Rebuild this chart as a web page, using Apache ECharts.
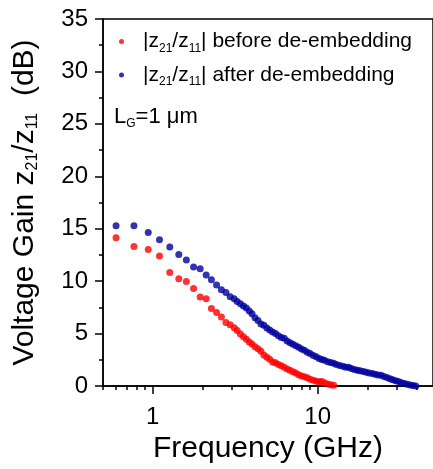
<!DOCTYPE html>
<html>
<head>
<meta charset="utf-8">
<style>
  html, body { margin: 0; padding: 0; background: #fff; }
  #chart { width: 433px; height: 469px; }
</style>
<script src="https://cdn.jsdelivr.net/npm/echarts@6/dist/echarts.min.js"></script>
</head>
<body>
<div id="chart"></div>
<script>
// frequency (GHz) and gain (dB)
var beforeFreq = [0.60, 0.77, 0.94, 1.10, 1.27, 1.44, 1.60, 1.77, 1.94, 2.11, 2.27, 2.44, 2.61, 2.78, 2.95, 3.12,
    3.25, 3.40, 3.55, 3.70, 3.85, 4.00, 4.17, 4.35, 4.53, 4.72, 4.92, 5.12, 5.33, 5.55, 5.78, 6.02, 6.27,
    6.53, 6.80, 7.08, 7.37, 7.67, 7.98, 8.30, 8.65, 9.00, 9.40, 9.80, 10.2, 10.6, 11.0, 11.5, 12.0, 12.5];
var beforeGain = [14.14, 13.31, 13.02, 12.39, 10.83, 10.23, 9.97, 9.31, 8.48, 8.32, 7.40, 7.02, 6.58, 6.05, 5.85, 5.55,
    5.30, 4.95, 4.70, 4.45, 4.20, 4.00, 3.75, 3.55, 3.32, 2.95, 2.75, 2.55, 2.30, 2.22, 2.05, 1.92, 1.78,
    1.62, 1.50, 1.35, 1.25, 1.08, 0.95, 0.88, 0.78, 0.65, 0.55, 0.45, 0.40, 0.42, 0.30, 0.20, 0.12, 0.08];

var afterFreq = [0.60, 0.77, 0.94, 1.10, 1.27, 1.44, 1.60, 1.77, 1.94, 2.11, 2.27, 2.44, 2.61, 2.78, 2.95, 3.12,
    3.25, 3.40, 3.55, 3.70, 3.85, 4.00, 4.17, 4.35, 4.53, 4.72, 4.92, 5.12, 5.33, 5.55, 5.78, 6.02, 6.27,
    6.53, 6.80, 7.08, 7.37, 7.67, 7.98, 8.30, 8.65, 9.00, 9.40, 9.80, 10.2, 10.6, 11.0, 11.5, 12.0, 12.5,
    13.0, 13.6, 14.2, 14.8, 15.4, 16.0, 16.7, 17.4, 18.1, 18.9, 19.7, 20.5, 21.4, 22.3, 23.2, 24.2, 25.2,
    26.3, 27.4, 28.5, 29.7, 30.9, 32.2, 33.5, 34.9, 36.3, 37.8, 39.3];
var afterGain = [15.28, 15.28, 14.64, 13.95, 13.25, 12.55, 12.01, 11.34, 11.18, 10.58, 10.13, 9.63, 9.18, 8.92, 8.51, 8.32,
    8.05, 7.85, 7.62, 7.44, 7.15, 6.90, 6.50, 6.25, 5.92, 5.80, 5.52, 5.35, 5.15, 5.00, 4.80, 4.62, 4.55,
    4.30, 4.12, 3.98, 3.85, 3.70, 3.52, 3.40, 3.22, 3.10, 2.92, 2.78, 2.62, 2.52, 2.45, 2.32, 2.25, 2.18,
    2.05, 1.95, 1.88, 1.80, 1.78, 1.68, 1.58, 1.50, 1.45, 1.38, 1.32, 1.25, 1.20, 1.12, 1.05, 1.02, 0.90,
    0.80, 0.70, 0.60, 0.50, 0.42, 0.32, 0.25, 0.16, 0.10, 0.04, 0.00];

var majorTicksX = [1, 10];
var minorTicksX = [0.5, 0.6, 0.7, 0.8, 0.9, 2, 3, 4, 5, 6, 7, 8, 9, 20, 30, 40];

var xMin = 0.5, xMax = 50;
var font = 'Liberation Sans, Arial, sans-serif';

function pairs(xs, ys) {
    var out = [];
    for (var i = 0; i < xs.length; i++) out.push([xs[i], ys[i]]);
    return out;
}
function lg(arr) {
    return arr.map(function (v) { return Math.log10(v); });
}

var chart = echarts.init(document.getElementById('chart'), null, {renderer: 'canvas'});
chart.setOption({
    animation: false,
    backgroundColor: '#fff',
    grid: {
        left: 103,
        top: 19,
        width: 331,
        height: 367,
        show: true,
        borderColor: '#000',
        borderWidth: 1.5,
        backgroundColor: 'transparent'
    },
    legend: {
        orient: 'vertical',
        left: 114,
        top: 26,
        itemWidth: 5,
        itemHeight: 5,
        itemGap: 10,
        icon: 'circle',
        data: ['before', 'after'],
        formatter: function (name) {
            return '|z{sub|21}/z{sub|11}| ' + name + ' de-embedding';
        },
        textStyle: {
            fontFamily: font,
            fontSize: 21,
            color: '#000',
            padding: [0, 0, 0, 14],
            rich: {
                sub: { fontSize: 12, fontFamily: font, color: '#000', padding: [14, 0, 0, 0] }
            }
        }
    },
    graphic: [{
        type: 'text',
        left: 114,
        top: 106,
        style: {
            text: 'L{sub|G}=1 μm',
            fontFamily: font,
            fontSize: 22,
            fill: '#000',
            rich: {
                sub: { fontSize: 12, fontFamily: font, fill: '#000', padding: [14, 0, 0, 0] }
            }
        }
    }],
    xAxis: [{
        type: 'log',
        logBase: 10,
        min: xMin,
        max: xMax,
        position: 'bottom',
        axisLine: { show: true, onZero: false, lineStyle: { color: '#000', width: 1.5 } },
        axisTick: { show: false },
        axisLabel: { show: false },
        splitLine: { show: false },
        minorTick: { show: false },
        minorSplitLine: { show: false }
    }, {
        type: 'value',
        min: Math.log10(xMin),
        max: Math.log10(xMax),
        position: 'bottom',
        axisLine: { show: false, onZero: false },
        axisTick: {
            show: true,
            length: 8,
            customValues: lg(majorTicksX),
            lineStyle: { color: '#000', width: 1.5 }
        },
        axisLabel: {
            show: true,
            customValues: lg(majorTicksX),
            formatter: function (v) { return String(Math.round(Math.pow(10, v))); },
            fontFamily: font,
            fontSize: 24,
            color: '#000',
            margin: 19
        },
        splitLine: { show: false },
        name: 'Frequency (GHz)',
        nameLocation: 'middle',
        nameGap: 46,
        nameTextStyle: { fontFamily: font, fontSize: 30, color: '#000' }
    }, {
        type: 'value',
        min: Math.log10(xMin),
        max: Math.log10(xMax),
        position: 'bottom',
        axisLine: { show: false, onZero: false },
        axisTick: {
            show: true,
            length: 4,
            customValues: lg(minorTicksX),
            lineStyle: { color: '#000', width: 1.5 }
        },
        axisLabel: { show: false },
        splitLine: { show: false }
    }],
    yAxis: {
        type: 'value',
        min: 0,
        max: 35,
        interval: 5,
        axisLine: { show: true, onZero: false, lineStyle: { color: '#000', width: 1.5 } },
        axisTick: { show: true, length: 8, lineStyle: { color: '#000', width: 1.5 } },
        minorTick: { show: true, splitNumber: 2, length: 4, lineStyle: { color: '#000', width: 1.5 } },
        splitLine: { show: false },
        axisLabel: { fontFamily: font, fontSize: 24, color: '#000', margin: 15 },
        name: 'Voltage Gain z{sub|21}/z{sub|11}  (dB)',
        nameLocation: 'middle',
        nameRotate: 90,
        nameGap: 62,
        nameTextStyle: {
            fontFamily: font, fontSize: 30, color: '#000',
            rich: {
                sub: { fontSize: 16, fontFamily: font, color: '#000', padding: [16, 0, 0, 0] }
            }
        }
    },
    series: [{
        name: 'before',
        type: 'scatter',
        xAxisIndex: 0,
        symbol: 'circle',
        symbolSize: 7,
        itemStyle: { color: '#ff0000' },
        data: pairs(beforeFreq, beforeGain)
    }, {
        name: 'after',
        type: 'scatter',
        xAxisIndex: 0,
        symbol: 'circle',
        symbolSize: 7,
        itemStyle: { color: '#00009c' },
        data: pairs(afterFreq, afterGain)
    }]
});
</script>
</body>
</html>
